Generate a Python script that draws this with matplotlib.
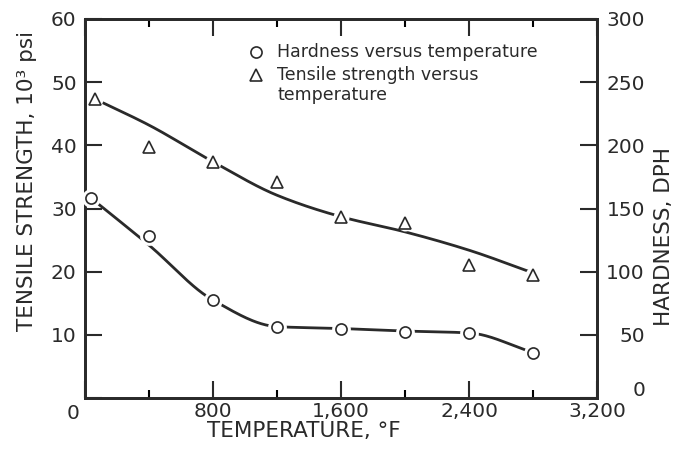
import numpy as np
import matplotlib
matplotlib.use('Agg')
import matplotlib.pyplot as plt
from matplotlib.ticker import MultipleLocator

# measured points (temperature in deg F)
temp_tensile = [65, 400, 800, 1200, 1600, 2000, 2400, 2800]
tensile = [47.4, 39.7, 37.4, 34.2, 28.7, 27.7, 21.1, 19.5]          # 10^3 psi
temp_hardness = [40, 400, 800, 1200, 1600, 2000, 2400, 2800]
hardness = [158, 128, 77.5, 56, 55, 52.5, 51.5, 36]                 # DPH

# hand-drawn fair curves
curve_temp_tensile = [65, 400, 800, 1200, 1600, 2000, 2400, 2800]
curve_tensile = [47.3, 43.2, 37.4, 32.1, 28.7, 26.3, 23.4, 19.8]
curve_temp_hardness = [40, 400, 800, 1200, 1600, 2000, 2400, 2800]
curve_hardness = [158, 121, 77.5, 56.5, 55, 53, 51.5, 36]

x_ticks = [0, 800, 1600, 2400, 3200]
x_labels = ['', '800', '1,600', '2,400', '3,200']

INK = '#2a2a2a'


def smooth(xs, ys, num=300):
    """ monotone cubic (pchip style) through the knots """
    xs = np.asarray(xs, float)
    ys = np.asarray(ys, float)
    h = np.diff(xs)
    d = np.diff(ys) / h
    m = np.zeros_like(ys)
    m[0], m[-1] = d[0], d[-1]
    for k in range(1, len(xs) - 1):
        if d[k - 1] * d[k] > 0:
            w1 = 2 * h[k] + h[k - 1]
            w2 = h[k] + 2 * h[k - 1]
            m[k] = (w1 + w2) / (w1 / d[k - 1] + w2 / d[k])
    xx = np.linspace(xs[0], xs[-1], num)
    i = np.clip(np.searchsorted(xs, xx) - 1, 0, len(xs) - 2)
    hh = xs[i + 1] - xs[i]
    t = (xx - xs[i]) / hh
    h00 = 2 * t**3 - 3 * t**2 + 1
    h10 = t**3 - 2 * t**2 + t
    h01 = -2 * t**3 + 3 * t**2
    h11 = t**3 - t**2
    return xx, h00 * ys[i] + h10 * hh * m[i] + h01 * ys[i + 1] + h11 * hh * m[i + 1]


plt.rcParams['font.family'] = 'DejaVu Sans'

fig = plt.figure(figsize=(6.82, 4.53), dpi=100)
ax = fig.add_axes([85 / 682, 1 - 398 / 453, 512 / 682, 379 / 453])
ax2 = ax.twinx()

ax.set_xlim(0, 3200)
ax.set_ylim(0, 60)
ax2.set_ylim(0, 300)

# curves
xx, yy = smooth(curve_temp_tensile, curve_tensile)
ax.plot(xx, yy, color=INK, lw=2.0, zorder=2, solid_capstyle='butt')
xx, yy = smooth(curve_temp_hardness, curve_hardness)
ax2.plot(xx, yy, color=INK, lw=2.0, zorder=2, solid_capstyle='butt')

# white knockouts leave the drafting gap round each symbol
ax.plot(temp_tensile, tensile, 'o', ms=11.5, color='white', mec='none', zorder=3, clip_on=False)
ax2.plot(temp_hardness, hardness, 'o', ms=13.5, color='white', mec='none', zorder=3, clip_on=False)

ax.plot(temp_tensile, tensile, '^', ms=9, mfc='white', mec=INK, mew=1.2, zorder=4, clip_on=False)
ax2.plot(temp_hardness, hardness, 'o', ms=8, mfc='white', mec=INK, mew=1.2, zorder=4, clip_on=False)

# spines and ticks
for a in (ax, ax2):
    for s in a.spines.values():
        s.set_linewidth(2.0)
        s.set_color(INK)

ax.set_xticks(x_ticks)
ax.set_xticklabels(x_labels)
ax.xaxis.set_minor_locator(MultipleLocator(400))
ax.set_yticks(range(0, 61, 10))
ax.set_yticklabels([''] + [str(v) for v in range(10, 61, 10)])
ax.tick_params(axis='x', which='major', direction='in', length=12, width=1.5, top=True,
               pad=3, labelsize=14.5, colors=INK)
ax.tick_params(axis='x', which='minor', direction='in', length=6, width=1.5, top=True)
ax.tick_params(axis='y', which='major', direction='in', length=12, width=1.5,
               pad=6, labelsize=14.5, colors=INK)

# right labels are set flush right in the original
ax2.set_yticks(range(0, 301, 50))
ax2.set_yticklabels([''] + [str(v) for v in range(50, 301, 50)], ha='right')
ax2.tick_params(axis='y', direction='in', length=12, width=1.5, pad=34.5,
                labelsize=14.5, colors=INK)

# corner zeros
ax.text(-0.024, -0.04, '0', transform=ax.transAxes, ha='center', va='center',
        fontsize=14.5, color=INK)
ax.text(1.095, 0.02, '0', transform=ax.transAxes, ha='right', va='center',
        fontsize=14.5, color=INK)

# axis titles
ax.text(0.428, -0.103, 'TEMPERATURE, °F', transform=ax.transAxes, ha='center',
        va='baseline', fontsize=15.5, color=INK)
ax.text(-0.101, 0.573, 'TENSILE STRENGTH, 10³ psi', transform=ax.transAxes, rotation=90,
        rotation_mode='anchor', ha='center', va='baseline', fontsize=15.5, color=INK)
ax.text(1.143, 0.425, 'HARDNESS, DPH', transform=ax.transAxes, rotation=90,
        rotation_mode='anchor', ha='center', va='baseline', fontsize=15.5, color=INK)

# key
ax2.plot([0.334], [0.913], 'o', ms=8, mfc='white', mec=INK, mew=1.2,
         transform=ax.transAxes, clip_on=False, zorder=5)
ax2.plot([0.334], [0.852], '^', ms=9, mfc='white', mec=INK, mew=1.2,
         transform=ax.transAxes, clip_on=False, zorder=5)
ax.text(0.375, 0.913, 'Hardness versus temperature', transform=ax.transAxes,
        ha='left', va='center', fontsize=12.5, color=INK)
ax.text(0.375, 0.852, 'Tensile strength versus', transform=ax.transAxes,
        ha='left', va='center', fontsize=12.5, color=INK)
ax.text(0.375, 0.799, 'temperature', transform=ax.transAxes,
        ha='left', va='center', fontsize=12.5, color=INK)

fig.savefig('out.png', dpi=100, facecolor='white')
